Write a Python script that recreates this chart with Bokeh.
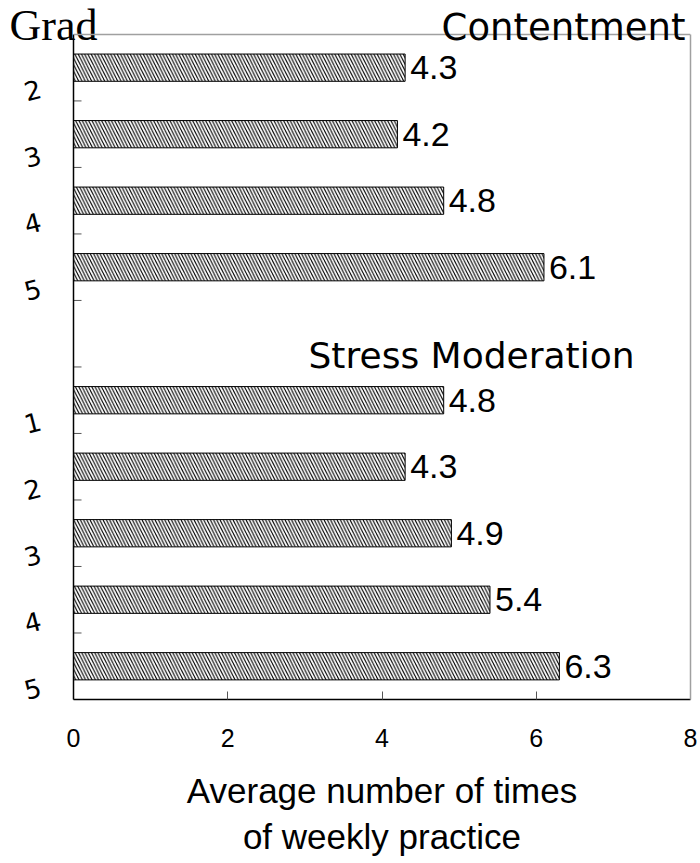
from bokeh.plotting import figure
from bokeh.models import (ColumnDataSource, Label, Range1d, FixedTicker,
                          LinearAxis, Span)
from bokeh.embed import file_html
from bokeh.resources import INLINE

# Average weekly practice by school grade, two groups
content_grades = ["2", "3", "4", "5"]
content_values = [4.3, 4.2, 4.8, 6.1]
stress_grades = ["1", "2", "3", "4", "5"]
stress_values = [4.8, 4.3, 4.9, 5.4, 6.3]
group_names = ["Contentment", "Stress Moderation"]
x_ticks = [0, 2, 4, 6, 8]
row_title = "Grad"

# row slots from the top: first group, one empty slot, second group
content_slots = list(range(len(content_values)))
stress_slots = [len(content_values) + 1 + i for i in range(len(stress_values))]
n_slots = len(content_values) + 1 + len(stress_values)
head_room = 0.51          # space above the top row for the headings

ys = [-(s + 0.5) for s in content_slots + stress_slots]
vals = content_values + stress_values
grades = content_grades + stress_grades

src = ColumnDataSource(dict(
    y=ys,
    v=vals,
    lab=[f"{v:.1f}" for v in vals],
))

p = figure(width=700, height=863, output_backend="svg", toolbar_location=None,
           x_range=Range1d(0, 8), y_range=Range1d(-n_slots, head_room),
           min_border_left=73, min_border_right=10, min_border_top=0,
           min_border_bottom=164)
p.background_fill_color = "white"
p.border_fill_color = "white"
p.outline_line_color = None
p.grid.visible = False

# top and right frame lines (grey)
p.add_layout(Span(location=0, dimension="width", line_color="#a0a0a0",
                  line_width=1.5))
ra = LinearAxis(bounds=(-n_slots, 0), ticker=FixedTicker(ticks=[]),
                axis_line_color="#a0a0a0", axis_line_width=1.5,
                major_tick_line_color=None, minor_tick_line_color=None,
                major_label_text_font_size="0px")
p.add_layout(ra, "right")

# hatched bars
p.hbar(y="y", right="v", left=0, height=0.41, source=src,
       fill_color="white", line_color="black", line_width=1,
       hatch_pattern="\\", hatch_color="black", hatch_scale=6.5,
       hatch_weight=1.1)

# value labels at the bar ends
p.text(x="v", y="y", text="lab", source=src, x_offset=5,
       text_align="left", text_baseline="middle",
       text_font_size="34px", text_color="black",
       text_font={"value": "Liberation Sans"})

# short tick marks between rows
boundaries = [-k for k in range(1, n_slots)]
p.ray(x=[0] * len(boundaries), y=boundaries, length=8, length_units="screen",
      angle=0, line_color="#555555", line_width=1)

# group headings
p.add_layout(Label(x=8, y=0, text=group_names[0],
                   text_align="center", text_baseline="alphabetic",
                   x_offset=-127, y_offset=7,
                   text_font="DejaVu Sans", text_font_size="37px",
                   text_color="black"))
p.add_layout(Label(x=8, y=-(len(content_values) + 0.5), text=group_names[1],
                   text_align="center", text_baseline="middle",
                   x_offset=-219, y_offset=-22,
                   text_font="DejaVu Sans", text_font_size="36px",
                   text_color="black"))

# x axis
xa = p.xaxis[0]
xa.ticker = FixedTicker(ticks=x_ticks, minor_ticks=[])
xa.major_tick_in = 8
xa.major_tick_out = 0
xa.axis_line_width = 1.5
xa.axis_line_color = "black"
xa.major_tick_line_color = "#555555"
xa.major_label_text_font = "Liberation Sans"
xa.major_label_text_font_size = "25px"
xa.major_label_text_color = "black"
xa.major_label_standoff = 29
xa.axis_label = "Average number of times\nof weekly practice"
xa.axis_label_text_font = "Liberation Sans"
xa.axis_label_text_font_size = "35px"
xa.axis_label_text_font_style = "normal"
xa.axis_label_text_color = "black"
xa.axis_label_standoff = 21

# y axis: grade labels sit a little below each bar
grade_ticks = [round(y - 0.3, 3) for y in ys]
ya = p.yaxis[0]
ya.bounds = (-n_slots, 0)
ya.ticker = FixedTicker(ticks=grade_ticks, minor_ticks=[])
ya.major_label_overrides = {t: g for t, g in zip(grade_ticks, grades)}
ya.major_tick_line_color = None
ya.minor_tick_line_color = None
ya.axis_line_width = 1.5
ya.axis_line_color = "black"
ya.major_label_orientation = 0.25
ya.major_label_text_font = "DejaVu Sans"
ya.major_label_text_font_size = "26px"
ya.major_label_text_color = "black"
ya.major_label_standoff = 27

# row heading above the grade labels
grad_y = 0.15
ta = LinearAxis(ticker=FixedTicker(ticks=[grad_y], minor_ticks=[]),
                major_label_overrides={grad_y: row_title},
                axis_line_color=None, major_tick_line_color=None,
                minor_tick_line_color=None,
                major_label_orientation="horizontal",
                major_label_text_font="Liberation Serif",
                major_label_text_font_size="44px",
                major_label_text_color="black",
                major_label_standoff=-87)
p.add_layout(ta, "left")

open("out.html", "w").write(file_html(p, INLINE))
